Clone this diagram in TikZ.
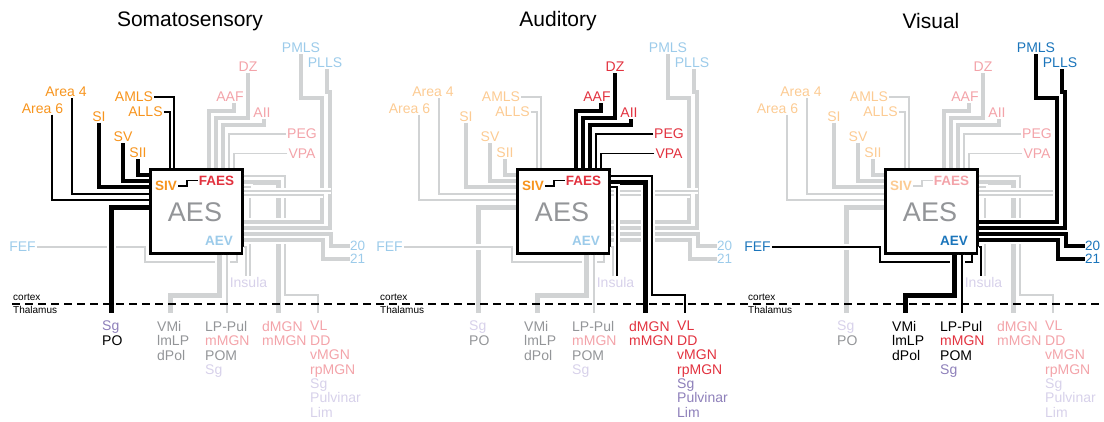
\documentclass[tikz,border=0pt]{standalone}
\usepackage{fontspec}
\setmainfont{Liberation Sans}

\definecolor{soma}{HTML}{F7941D}
\definecolor{somalt}{HTML}{FCCB93}
\definecolor{aud}{HTML}{E2323F}
\definecolor{audlt}{HTML}{F3A3A9}
\definecolor{vis}{HTML}{1B75BB}
\definecolor{vislt}{HTML}{9CCBEA}
\definecolor{purp}{HTML}{8E80BA}
\definecolor{purplt}{HTML}{D7D1EA}
\definecolor{txtgray}{HTML}{939598}
\definecolor{linegray}{HTML}{D1D3D4}

% label colours of each panel
\newcommand{\somacols}{\colorlet{tsom}{soma}\colorlet{taud}{audlt}\colorlet{tvis}{vislt}%
  \colorlet{tsiv}{soma}\colorlet{tfaes}{aud}\colorlet{tstep}{black}%
  \colorlet{tsga}{purp}\colorlet{tpo}{black}\colorlet{tvmi}{txtgray}%
  \colorlet{tmmg}{audlt}\colorlet{tsgb}{purplt}\colorlet{tsgc}{purplt}}
\newcommand{\audcols}{\colorlet{tsom}{somalt}\colorlet{taud}{aud}\colorlet{tvis}{vislt}%
  \colorlet{tsiv}{soma}\colorlet{tfaes}{aud}\colorlet{tstep}{black}%
  \colorlet{tsga}{purplt}\colorlet{tpo}{txtgray}\colorlet{tvmi}{txtgray}%
  \colorlet{tmmg}{audlt}\colorlet{tsgb}{purplt}\colorlet{tsgc}{purp}}
\newcommand{\viscols}{\colorlet{tsom}{somalt}\colorlet{taud}{audlt}\colorlet{tvis}{vis}%
  \colorlet{tsiv}{somalt}\colorlet{tfaes}{audlt}\colorlet{tstep}{linegray}%
  \colorlet{tsga}{purplt}\colorlet{tpo}{txtgray}\colorlet{tvmi}{black}%
  \colorlet{tmmg}{aud}\colorlet{tsgb}{purp}\colorlet{tsgc}{purplt}}

% connections of each modality, #1 = line colour
\newcommand{\somalines}[1]{
  \draw[thinln,#1] (a4.south -| 72,0) |- (box.west |- 0,194);
  \draw[thinln,#1] (a6.south -| 52,0) |- (box.west |- 0,200);
  \draw[thickln,#1] (si.south) |- (box.west |- 0,187);
  \draw[thickln,#1] (sv.south) |- (box.west |- 0,181);
  \draw[thickln,#1] (sii.south) |- (box.west |- 0,175);
  \draw[thinln,#1] (amls.east) -| (box.north -| 174,0);
  \draw[thinln,#1] (alls.east) -| (box.north -| 170,0);
  \draw[fatln,#1] (box.west |- 0,207) -| (g1.north -| 111,0);
}
\newcommand{\audlines}[1]{
  \draw[thickln,#1] (aaf.south -| 234,0) |- (209,111) -- (box.north -| 209,0);
  \draw[thickln,#1] (dz.south) |- (216,118) -- (box.north -| 216,0);
  \draw[thickln,#1] (aii.south -| 264,0) |- (223,125) -- (box.north -| 223,0);
  \draw[thinln,#1] (peg.west) -| (box.north -| 229,0);
  \draw[thinln,#1] (vpa.west) -| (box.north -| 234,0);
  \draw[thinln,#1] (box.east |- 0,176) -| (285,295) -| (g5.north -| 318,0);
  \draw[fatln,#1] (box.east |- 0,182) -| (g4.north -| 278,0);
  \draw[thinln,#1] (box.east |- 0,187) -| (ins.north -| 250,0);
}
\newcommand{\vislines}[1]{
  \draw[thickln,#1] (pmls.south) |- (322,98) |- (box.east |- 0,222);
  \draw[thickln,#1] (plls.south -| 327,0) |- (330,92) |- (box.east |- 0,228);
  \draw[thickln,#1] (box.east |- 0,234) -| (n20.west -| 331,0) -- (n20.west);
  \draw[thickln,#1] (box.east |- 0,240) -| (n21.west -| 323,0) -- (n21.west);
  \draw[thinln,#1] (fef.east) -| (145,262) -| (box.south -| 237,0);
  \draw[fatln,#1] (box.south -| 219,0) |- (170,295) -- (g2.north -| 170,0);
  \draw[thinln,#1] (box.south -| 227,0) -- (g3.north -| 227,0);
  \draw[thinln,#1] (box.east |- 0,247) -| (ins.north -| 246,0);
}

\begin{document}
\begin{tikzpicture}[x=1pt, y=-1pt,
    halo/.style={preaction={draw=white, line width=\pgflinewidth+2pt}},
    thinln/.style={line width=1.3pt, halo},
    thickln/.style={line width=4pt, halo},
    fatln/.style={line width=5pt, halo},
    stepln/.style={line width=1.6pt},
    ttl/.style={font=\fontsize{21}{24}\selectfont, inner sep=0pt},
    lbl/.style={font=\fontsize{14}{16}\selectfont, inner sep=1pt},
    numlbl/.style={font=\fontsize{13.5}{15}\selectfont, inner sep=0pt, anchor=west},
    inlbl/.style={font=\fontsize{13.5}{16}\selectfont\bfseries, inner sep=1pt},
    thal/.style={font=\fontsize{14}{14.4}\selectfont, align=left, anchor=north west,
      inner xsep=0pt, inner ysep=8pt},
    small/.style={font=\fontsize{10}{11}\selectfont, inner sep=0pt, anchor=base west},
    aesbox/.style={draw=black, line width=3pt, fill=white, minimum width=92pt,
      minimum height=84pt, inner sep=0pt}]
\useasboundingbox (0,0) rectangle (1104,421);

% titles
\node[ttl] (t1) at (190,21) {Somatosensory};
\node[ttl] (t2) at (558,21) {Auditory};
\node[ttl] (t3) at (931,21) {Visual};

\foreach \dx/\grp in {0/soma, 367/aud, 735/vis}{
\begin{scope}[shift={(\dx,0)}]
  \csname\grp cols\endcsname
  % AES box
  \node[aesbox] (box) at (196,211) {};
  \node[font=\fontsize{27}{30}\selectfont, text=txtgray, inner sep=0pt] (aes) at (195,212) {AES};
  \node[inlbl, text=tsiv] (siv) at (166,186) {SIV};
  \node[inlbl, text=tfaes] (faes) at (216.5,180.5) {FAES};
  \node[inlbl, text=tvis] (aev) at (219,241) {AEV};
  % cortical areas
  \node[lbl, text=tsom] (a4) at (66,92) {Area 4};
  \node[lbl, text=tsom] (a6) at (42.5,108.5) {Area 6};
  \node[lbl, text=tsom] (si) at (99,116.5) {SI};
  \node[lbl, text=tsom] (sv) at (123,137) {SV};
  \node[lbl, text=tsom] (sii) at (138,153) {SII};
  \node[lbl, text=tsom] (amls) at (134,97) {AMLS};
  \node[lbl, text=tsom] (alls) at (145.5,112) {ALLS};
  \node[lbl, text=taud] (dz) at (248,67) {DZ};
  \node[lbl, text=taud] (aaf) at (230,97) {AAF};
  \node[lbl, text=taud] (aii) at (262,113) {AII};
  \node[lbl, text=taud] (peg) at (302,134) {PEG};
  \node[lbl, text=taud] (vpa) at (302,153.5) {VPA};
  \node[lbl, text=tvis] (pmls) at (301,48) {PMLS};
  \node[lbl, text=tvis] (plls) at (325,63) {PLLS};
  \node[lbl, text=tvis] (fef) at (22.5,247) {FEF};
  \node[numlbl, text=tvis] (n20) at (350,245.5) {20};
  \node[numlbl, text=tvis] (n21) at (350,258.5) {21};
  \node[lbl, text=purplt] (ins) at (248.5,282.5) {Insula};
  % cortex / thalamus
  \node[small] (ctx) at (13,300.5) {cortex};
  \node[small] (thl) at (13,313) {Thalamus};
  % thalamic nuclei
  \node[thal] (g1) at (102,313) {\color{tsga}Sg\\\color{tpo}PO};
  \node[thal, text=tvmi] (g2) at (157,313) {VMi\\lmLP\\dPol};
  \node[thal] (g3) at (205,313) {\color{tvmi}LP-Pul\\\color{tmmg}mMGN\\\color{tvmi}POM\\\color{tsgb}Sg};
  \node[thal, text=taud] (g4) at (262,313) {dMGN\\mMGN};
  \node[thal] (g5) at (310,313) {\color{taud}VL\\\color{taud}DD\\\color{taud}vMGN\\\color{taud}rpMGN\\\color{tsgc}Sg\\\color{tsgc}Pulvinar\\\color{tsgc}Lim};
  % all connections in grey
  \somalines{linegray}
  \audlines{linegray}
  \vislines{linegray}
  \draw[thinln, linegray] (box.east |- 0,191) -- (331,191);
  \draw[thinln, linegray] (box.east |- 0,195) -- (323,195);
  % the modality of the panel in black
  \csname\grp lines\endcsname{black}
  \draw[stepln, tstep] (siv.east) -- ++(9,0) |- (faes.west);
\end{scope}
}

% cortex / thalamus border
\coordinate (cl) at (12,304);
\coordinate (cr) at (1104,304);
\draw[line width=1.6pt, dash pattern=on 8pt off 5pt] (cl) -- (cr);
\end{tikzpicture}
\end{document}
